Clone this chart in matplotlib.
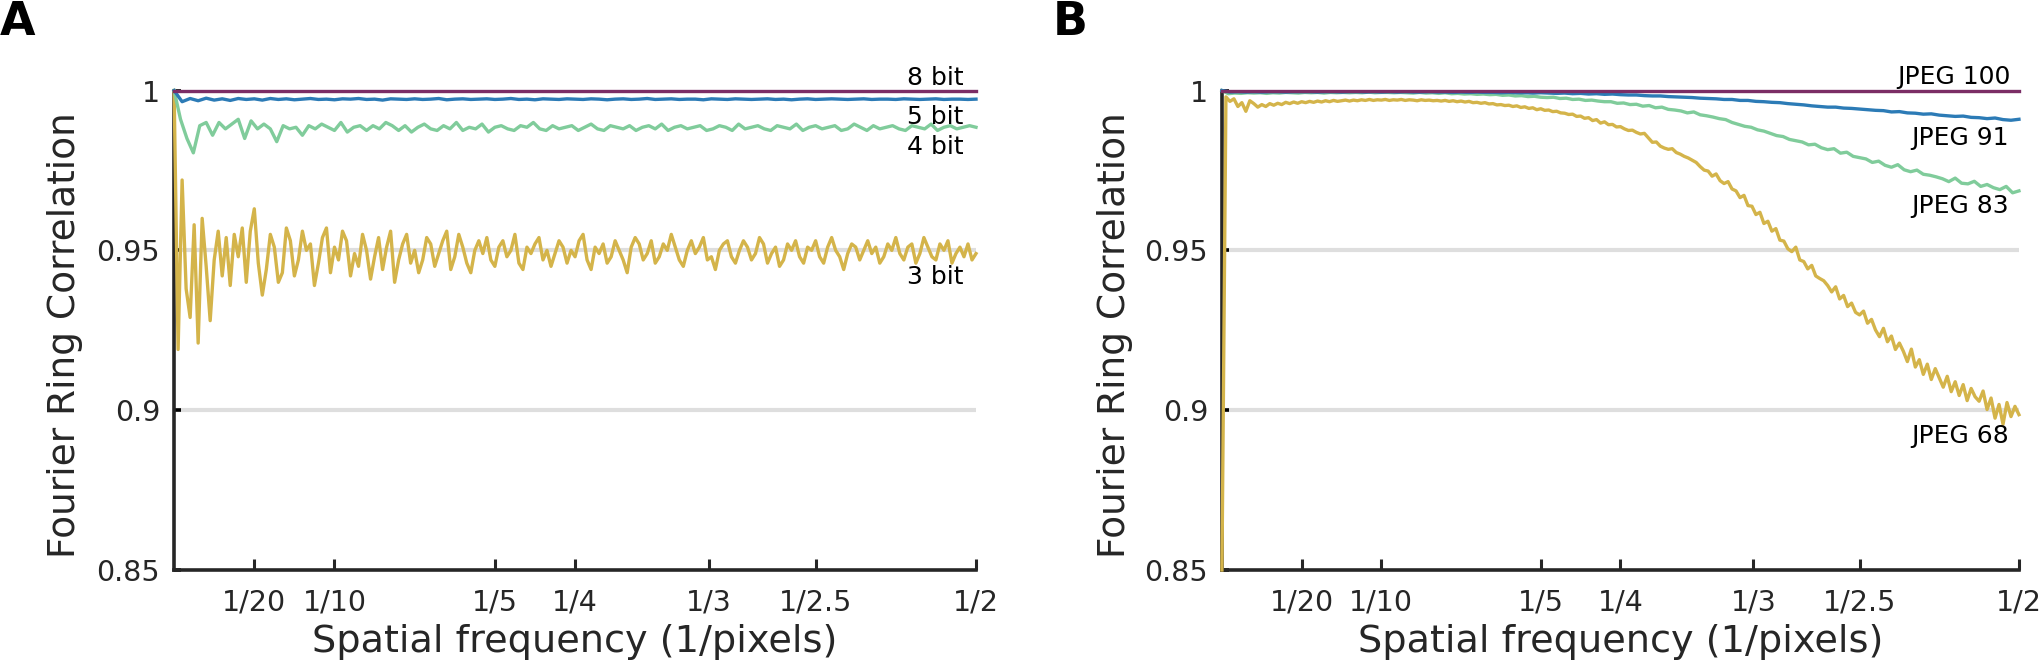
import matplotlib
matplotlib.use("Agg")
import matplotlib.pyplot as plt
import numpy as np

# Fourier ring correlation vs spatial frequency.
# All curves are stored in thousandths (950.0 -> 0.950) and sampled on an
# even frequency grid from 0 to 1/2.

freq_ticks = [1 / 20, 1 / 10, 1 / 5, 1 / 4, 1 / 3, 1 / 2.5, 1 / 2]
freq_labels = ["1/20", "1/10", "1/5", "1/4", "1/3", "1/2.5", "1/2"]
frc_ticks = [0.85, 0.9, 0.95, 1.0]
frc_labels = ["0.85", "0.9", "0.95", "1"]

# ---- panel A: bit depth ----
bit8 = [1000.0, 1000.0]

bit5 = [1000.0, 996.5, 997.5, 996.8, 997.6, 997.0, 997.4, 996.9, 997.5, 997.2,
        997.4, 997.0, 997.5, 997.2, 997.4, 997.1, 997.3, 997.5, 997.2, 997.3,
        997.1, 997.4, 997.3, 997.5, 997.2, 997.3, 997.0, 997.4, 997.3, 997.2,
        997.4, 997.2, 997.3, 997.5, 997.1, 997.3, 997.4, 997.2, 997.3, 997.4,
        997.2, 997.3, 997.5, 997.2, 997.3, 997.1, 997.4, 997.3, 997.2, 997.4,
        997.3, 997.2, 997.4, 997.3, 997.1, 997.3, 997.4, 997.2, 997.3, 997.5,
        997.2, 997.3, 997.4, 997.2, 997.3, 997.3, 997.1, 997.4, 997.3, 997.2,
        997.4, 997.3, 997.2, 997.3, 997.4, 997.2, 997.3, 997.1, 997.3, 997.4,
        997.2, 997.3, 997.4, 997.3, 997.2, 997.3, 997.4, 997.2, 997.3, 997.3,
        997.2, 997.4, 997.3, 997.2, 997.3, 997.4, 997.2, 997.3, 997.3, 997.2,
        997.3]

bit4 = [1000.0, 991.0, 985.0, 980.5, 989.0, 990.0, 986.0, 990.0, 988.0, 989.5,
        991.0, 985.0, 990.5, 988.0, 989.5, 988.0, 984.0, 989.0, 988.0, 988.5,
        986.0, 989.0,
        988.0, 989.5, 988.5, 987.5, 990.0, 987.0, 988.5, 989.0, 987.5, 989.0,
        988.0, 990.0, 989.0, 987.5, 989.0, 987.0, 988.5, 989.5, 988.0, 987.5,
        989.0, 988.0, 990.0, 987.5, 988.5, 988.0, 989.5, 987.0, 988.5, 989.0,
        988.0, 987.5, 989.0, 988.5, 990.0, 988.0, 987.5, 989.0, 988.0, 988.5,
        989.0, 987.5, 988.5, 989.5, 988.0, 987.5, 989.0, 988.5, 988.0, 989.0,
        987.5, 988.5, 989.0, 988.0, 989.5, 987.5, 988.5, 989.0, 988.0, 988.5,
        989.0, 987.5, 988.0, 989.0, 988.5, 987.5, 989.5, 988.0, 988.5, 989.0,
        988.0, 987.5, 989.0, 988.5, 988.0, 989.5, 987.5, 988.5, 989.0, 988.0,
        988.5, 989.0, 987.5, 988.0, 989.5, 988.5, 987.5, 989.0, 988.0, 988.5,
        989.0, 988.0, 987.5, 989.0, 988.5, 988.0, 989.5, 987.5, 988.5, 989.0,
        988.0, 988.5, 989.0, 988.5]

bit3 = [1000.0, 919.0, 972.0, 938.0, 929.0, 958.0, 921.0, 960.0, 945.0, 928.0,
        947.0, 956.0, 942.0, 954.0, 939.0, 955.0, 948.0, 957.0, 940.0, 956.0,
        963.0, 946.0, 936.0, 944.0, 955.0, 951.0, 940.0, 943.0, 957.0, 953.0,
        942.0, 947.0, 956.0, 950.0, 952.0, 939.0, 946.0, 954.0, 957.0, 943.0,
        951.0, 947.0, 956.0, 953.0, 942.0, 949.0, 945.0, 955.0, 950.0, 941.0,
        948.0, 954.0, 944.0, 951.0, 956.0, 940.0, 947.0, 952.0, 955.0, 946.0,
        950.0, 943.0, 947.0, 954.0, 952.0, 945.0, 949.0, 953.0, 956.0, 944.0,
        948.0, 955.0, 951.0, 946.0, 943.0, 950.0, 953.0, 949.0, 954.0, 947.0,
        945.0, 951.0, 953.0, 948.0, 950.0, 955.0, 946.0, 944.0, 951.0, 949.0,
        952.0, 954.0, 947.0, 950.0, 945.0, 949.0, 953.0, 951.0, 946.0, 950.0,
        948.0, 953.0, 955.0, 947.0, 944.0, 951.0, 949.0, 952.0, 946.0, 948.0,
        953.0, 950.0, 947.0, 943.0, 951.0, 954.0, 952.0, 947.0, 949.0, 953.0,
        946.0, 948.0, 952.0, 950.0, 955.0, 951.0, 947.0, 945.0, 950.0, 953.0,
        949.0, 951.0, 954.0, 947.0, 948.0, 944.0, 950.0, 952.0, 953.0, 948.0,
        946.0, 950.0, 953.0, 951.0, 947.0, 949.0, 954.0, 952.0, 946.0, 949.0,
        951.0, 945.0, 947.0, 952.0, 950.0, 953.0, 948.0, 946.0, 951.0, 950.0,
        953.0, 948.0, 946.0, 951.0, 954.0, 950.0, 948.0, 944.0, 949.0, 952.0,
        951.0, 947.0, 950.0, 953.0, 949.0, 951.0, 946.0, 948.0, 952.0, 950.0,
        954.0, 949.0, 947.0, 951.0, 952.0, 946.0, 949.0, 954.0, 951.0, 948.0,
        947.0, 952.0, 950.0, 953.0, 946.0, 949.0, 951.0, 948.0, 952.0, 947.0,
        949.0]

# ---- panel B: jpeg quality ----
jpeg100 = [1000.0, 1000.0]

jpeg91 = [1000.0,
          999.5, 999.6, 999.5, 999.6, 999.5, 999.6, 999.6, 999.5, 999.6, 999.6,
          999.6, 999.5, 999.6, 999.6, 999.5, 999.6, 999.6, 999.5, 999.6, 999.5,
          999.6, 999.5, 999.6, 999.5, 999.5, 999.6, 999.5, 999.5, 999.4, 999.5,
          999.4, 999.5, 999.4, 999.4, 999.3, 999.4, 999.3, 999.3, 999.2, 999.3,
          999.2, 999.1, 999.2, 999.0, 999.1, 998.9, 999.0, 998.8, 998.9, 998.7,
          998.6, 998.6, 998.4, 998.3, 998.3, 998.1, 998.0, 997.9, 997.8, 997.6,
          997.5, 997.4, 997.2, 997.2, 996.9, 996.9, 996.6, 996.5, 996.3, 996.2,
          995.9, 995.7, 995.5, 995.2, 995.0, 994.8, 994.8, 994.5, 994.4, 994.2,
          994.0, 993.8, 993.7, 993.3, 993.4, 993.0, 992.9, 992.6, 992.7, 992.3,
          992.1, 991.9, 992.0, 991.6, 991.5, 991.2, 991.4, 990.9, 990.7, 991.0]

jpeg83 = [1000.0,
          999.0, 999.2, 999.1, 999.3, 999.2, 999.3, 999.1, 999.3, 999.2, 999.4,
          999.3, 999.2, 999.4, 999.3, 999.4, 999.2, 999.4, 999.3, 999.4, 999.3,
          999.4, 999.3, 999.5, 999.3, 999.4, 999.4, 999.3, 999.4, 999.3, 999.2,
          999.4, 999.2, 999.3, 999.1, 999.3, 999.0, 999.1, 998.9, 999.0, 998.8,
          998.9, 998.7, 998.8, 998.5, 998.6, 998.3, 998.4, 998.1, 998.2, 997.9,
          997.8, 997.9, 997.5, 997.6, 997.2, 997.3, 996.9, 997.0, 996.7, 996.5,
          996.5, 996.0, 996.1, 995.6, 995.7, 995.1, 995.3, 994.6, 994.8, 994.1,
          993.9, 993.6, 993.0, 993.3, 992.4, 992.1, 991.7, 991.2, 990.9, 990.0,
          989.4, 988.8, 988.5, 987.7, 987.3, 986.6, 985.9, 985.6, 984.7, 984.3,
          983.9, 983.0, 983.2, 982.1, 981.5, 981.8, 980.4, 980.7, 979.4, 979.0,
          978.6, 977.5, 977.9, 976.6, 976.0, 976.8, 975.2, 974.6, 975.1, 973.8,
          973.5, 973.0, 972.4, 971.5, 972.6, 971.0, 970.8, 971.6, 970.0, 970.6,
          969.6, 969.0, 970.0, 968.0, 968.6]

jpeg68 = [850.0, 998.0, 996.6, 997.4, 995.0, 996.2, 993.5, 996.8, 995.9, 994.8,
          995.6, 995.0, 995.9, 995.4, 996.0, 995.6, 996.3, 995.9, 996.4, 996.0,
          996.5,
          996.2, 996.6, 996.3, 996.7, 996.4, 996.8, 996.5, 996.9, 996.6, 996.8,
          997.0, 996.7, 997.0, 996.8, 997.1, 996.9, 997.2, 996.9, 997.1, 997.0,
          997.2, 996.9, 997.1, 997.0, 997.2, 996.9, 997.1, 997.0, 996.8, 997.1,
          996.9, 997.0, 996.8, 996.9, 996.7, 996.9, 996.6, 996.8, 996.5, 996.7,
          996.4, 996.6, 996.2, 996.3, 996.0, 996.2, 995.8, 995.9, 995.5, 995.6,
          995.3, 995.4, 995.0, 995.2, 994.7, 994.9, 994.4, 994.6, 994.0, 994.3,
          993.8, 993.9, 993.4, 993.5, 993.0, 992.9, 992.5, 992.6, 991.9, 992.0,
          991.3, 991.5, 990.6, 990.9, 989.8, 990.2, 989.3, 989.4, 988.6, 988.7,
          988.0, 987.5, 987.6, 986.9, 986.4, 986.6, 985.2, 983.8, 983.9, 982.6,
          982.0, 981.6, 981.8, 980.6, 980.1, 979.4, 978.9, 978.2, 977.5, 976.2,
          975.1, 974.8, 973.2, 973.9, 971.8, 970.9, 971.5, 969.2, 968.6, 966.5,
          967.2, 964.0, 963.8, 961.2, 961.9, 958.4, 959.1, 956.0, 956.8, 953.2,
          952.9, 950.5, 949.6, 951.0, 947.0, 946.5, 944.2, 945.3, 942.0, 941.2,
          940.5, 939.0, 937.0, 938.6, 934.8, 935.9, 932.4, 933.5, 930.6, 929.8,
          931.0, 927.2, 928.4, 925.1, 923.0, 925.6, 921.4, 923.2, 919.0, 921.0,
          918.4, 915.2, 919.1, 913.5, 915.8, 911.2, 914.4, 909.6, 913.0, 910.1,
          907.2, 910.6, 905.8, 908.9, 904.6, 908.0, 903.0, 906.8, 904.2, 902.8,
          906.0, 900.2, 903.8, 897.5, 901.8, 895.6, 902.4, 898.0, 901.2, 898.6]

colors = {"purple": "#7b2d65", "blue": "#2c7bb6",
          "green": "#80cc9b", "yellow": "#d4b44a"}
ink = "#262626"
grid_grey = "#dedede"


def to_curve(values):
    """
    Turn a list of thousandths into (frequency, correlation) arrays
    :param values: correlation values * 1000, evenly spaced from f=0 to f=1/2
    :return: freq, frc
    """
    frc = np.array(values) / 1000.0
    freq = np.linspace(0, 0.5, len(frc))
    return freq, frc


def style_axes(ax, label_x):
    """
    Axis limits, ticks, grid and labels shared by both panels
    """
    ax.set_xlim(0, 0.5)
    ax.set_ylim(0.85, 1.0)
    for y in [0.9, 0.95, 1.0]:
        ax.axhline(y, color=grid_grey, lw=3, zorder=0)
    ax.spines["top"].set_visible(False)
    ax.spines["right"].set_visible(False)
    for side in ["left", "bottom"]:
        ax.spines[side].set_linewidth(2.6)
        ax.spines[side].set_color(ink)
    ax.set_xticks(freq_ticks)
    ax.set_xticklabels(freq_labels)
    ax.set_yticks(frc_ticks)
    ax.set_yticklabels(frc_labels)
    ax.tick_params(axis="x", direction="in", length=8, width=2.2,
                   color=ink, labelcolor=ink, labelsize=20.5, pad=13)
    ax.tick_params(axis="y", direction="in", length=5, width=2.6,
                   color="black", labelcolor=ink, labelsize=20.5, pad=10)
    ax.set_xlabel("Spatial frequency (1/pixels)", fontsize=27.5, color=ink)
    ax.set_ylabel("Fourier Ring Correlation", fontsize=27, color=ink)
    ax.xaxis.set_label_coords(0.5, -0.112)
    ax.yaxis.set_label_coords(label_x, 0.49)


def plot_panel(ax, curves, names, name_pos, label_x):
    """
    Draw one panel: curves are (values, colour) pairs, drawn bottom to top
    """
    style_axes(ax, label_x)
    for values, color in curves:
        freq, frc = to_curve(values)
        ax.plot(freq, frc, color=color, lw=2.4, clip_on=False, zorder=3)
    for name, (fx, fy) in zip(names, name_pos):
        ax.text(fx, fy, name, ha="right", va="baseline", fontsize=18,
                color="black")


def main():
    fig = plt.figure(figsize=(20.41, 6.66), dpi=100)
    ax_a = fig.add_axes([0.0853, 0.1441, 0.3929, 0.7200])
    ax_b = fig.add_axes([0.5987, 0.1441, 0.3905, 0.7200])

    plot_panel(ax_a,
               [(bit3, colors["yellow"]), (bit4, colors["green"]),
                (bit5, colors["blue"]), (bit8, colors["purple"])],
               ["8 bit", "5 bit", "4 bit", "3 bit"],
               [(0.492, 1.0017), (0.492, 0.9894), (0.492, 0.9802),
                (0.492, 0.9394)],
               -0.113)
    plot_panel(ax_b,
               [(jpeg68, colors["yellow"]), (jpeg83, colors["green"]),
                (jpeg91, colors["blue"]), (jpeg100, colors["purple"])],
               ["JPEG 100", "JPEG 91", "JPEG 83", "JPEG 68"],
               [(0.4945, 1.002), (0.4935, 0.9829), (0.4935, 0.9617),
                (0.4935, 0.8898)],
               -0.112)

    fig.text(0.0, 1.0, "A", ha="left", va="top", fontsize=33,
             fontweight="bold")
    fig.text(0.516, 1.0, "B", ha="left", va="top", fontsize=33,
             fontweight="bold")

    fig.savefig("out.png", dpi=100, facecolor="white")


if __name__ == "__main__":
    main()
